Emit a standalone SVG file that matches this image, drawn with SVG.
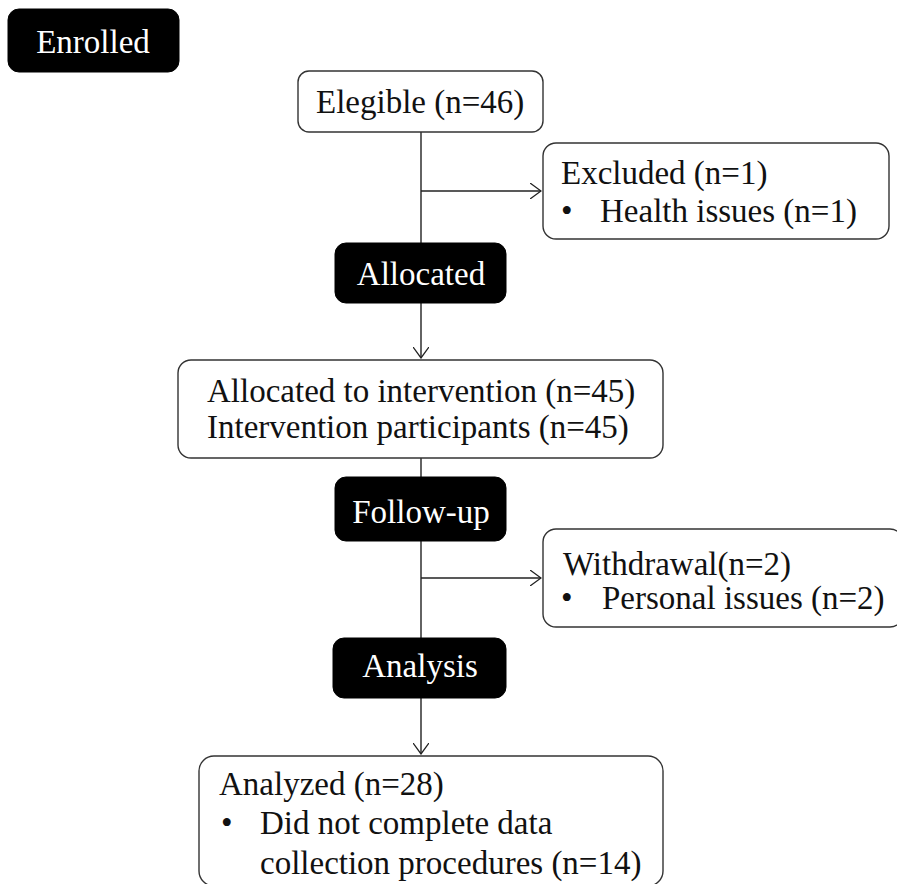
<svg xmlns="http://www.w3.org/2000/svg" width="897" height="884" viewBox="0 0 897 884">
<style>
.dark{fill:#000;stroke:#000;stroke-width:1}
.box{fill:#fff;stroke:#333;stroke-width:1.4}
.wt{font-family:"Liberation Serif","Times New Roman","DejaVu Serif",serif;font-size:33px;fill:#fff}
.bt{font-family:"Liberation Serif","Times New Roman","DejaVu Serif",serif;font-size:33px;fill:#111}
.ln{stroke:#222;stroke-width:1.4;fill:none}
</style>
<defs>
<marker id="arr" viewBox="0 0 12 16" refX="11" refY="8" markerWidth="12" markerHeight="16" markerUnits="userSpaceOnUse" orient="auto">
<path d="M0,0 L11,8 L0,16" fill="none" stroke="#222" stroke-width="1.3"/>
</marker>
</defs>
<rect width="897" height="884" fill="#fff"/>
<g id="connectors">
<line class="ln" x1="421" y1="132" x2="421" y2="243"/>
<line class="ln" x1="421" y1="191" x2="541" y2="191" marker-end="url(#arr)"/>
<line class="ln" x1="421" y1="303" x2="421" y2="358" marker-end="url(#arr)"/>
<line class="ln" x1="421" y1="458" x2="421" y2="477"/>
<line class="ln" x1="421" y1="541" x2="421" y2="638"/>
<line class="ln" x1="421" y1="578" x2="541" y2="578" marker-end="url(#arr)"/>
<line class="ln" x1="421" y1="698" x2="421" y2="754" marker-end="url(#arr)"/>
</g>
<g id="enrolled">
<rect class="dark" x="8" y="9" width="171" height="63" rx="11"/>
<text class="wt" x="93" y="53" text-anchor="middle">Enrolled</text>
</g>
<g id="elegible">
<rect class="box" x="298" y="71" width="245" height="61" rx="11"/>
<text class="bt" x="316" y="113">Elegible (n=46)</text>
</g>
<g id="excluded">
<rect class="box" x="543" y="143" width="346" height="96" rx="13"/>
<text class="bt" x="561" y="184">Excluded (n=1)</text>
<text class="bt" x="561" y="222">•</text>
<text class="bt" x="600" y="222">Health issues (n=1)</text>
</g>
<g id="allocated">
<rect class="dark" x="335" y="243" width="171" height="60" rx="11"/>
<text class="wt" x="421" y="285" text-anchor="middle">Allocated</text>
</g>
<g id="allocated-to">
<rect class="box" x="178" y="360" width="485" height="98" rx="13"/>
<text class="bt" x="207" y="402">Allocated to intervention (n=45)</text>
<text class="bt" x="207" y="438">Intervention participants  (n=45)</text>
</g>
<g id="followup">
<rect class="dark" x="335" y="477" width="171" height="64" rx="11"/>
<text class="wt" x="421" y="523" text-anchor="middle">Follow-up</text>
</g>
<g id="withdrawal">
<rect class="box" x="543" y="529" width="360" height="98" rx="13"/>
<text class="bt" x="563" y="575">Withdrawal(n=2)</text>
<text class="bt" x="561" y="609">•</text>
<text class="bt" x="602" y="609">Personal issues (n=2)</text>
</g>
<g id="analysis">
<rect class="dark" x="333" y="638" width="173" height="60" rx="11"/>
<text class="wt" x="420" y="677" text-anchor="middle">Analysis</text>
</g>
<g id="analyzed">
<rect class="box" x="199" y="756" width="464" height="130" rx="15"/>
<text class="bt" x="219" y="795">Analyzed (n=28)</text>
<text class="bt" x="221" y="834">•</text>
<text class="bt" x="260" y="834">Did not complete data</text>
<text class="bt" x="260" y="874">collection procedures (n=14)</text>
</g>
</svg>
